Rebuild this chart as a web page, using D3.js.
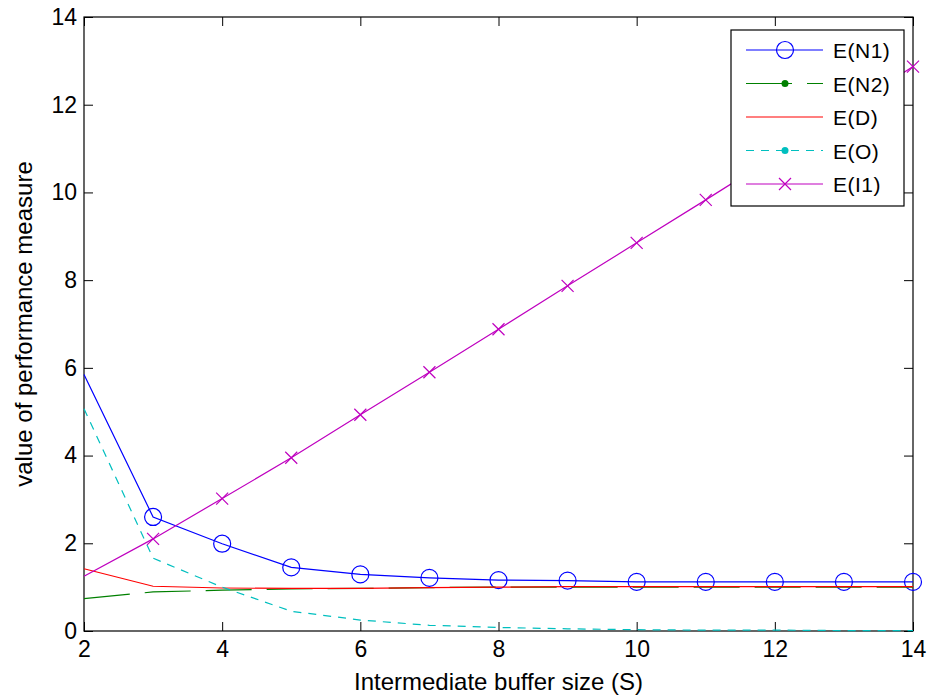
<!DOCTYPE html>
<html>
<head>
<meta charset="utf-8">
<script src="https://cdn.jsdelivr.net/npm/d3@7"></script>
<style>
  body { margin: 0; background: #fff; }
  text { font-family: "Liberation Sans", Arial, sans-serif; }
</style>
</head>
<body>
<div id="wrapper"></div>
<script>
// data
const bufferSizes = [2, 3, 4, 5, 6, 7, 8, 9, 10, 11, 12, 13, 14]
const eN1 = [5.85, 2.6, 1.99, 1.45, 1.29, 1.21, 1.16, 1.15, 1.12, 1.12, 1.12, 1.12, 1.12]
const eN2 = [0.74, 0.89, 0.93, 0.96, 0.97, 0.99, 1.0, 1.0, 1.0, 1.0, 1.0, 1.0, 1.0]
const eD = [1.42, 1.02, 0.98, 0.97, 0.97, 0.99, 1.0, 1.01, 1.01, 1.01, 1.01, 1.01, 1.01]
const eO = [5.07, 1.66, 1.0, 0.45, 0.25, 0.13, 0.08, 0.05, 0.03, 0.02, 0.02, 0.01, 0.01]
const eI1 = [1.25, 2.1, 3.02, 3.95, 4.93, 5.9, 6.88, 7.87, 8.85, 9.83, 10.82, 11.85, 12.87]
const xTicks = [2, 4, 6, 8, 10, 12, 14]
const yTicks = [0, 2, 4, 6, 8, 10, 12, 14]

const series = [
  { name: "E(N1)", values: eN1, color: "#0000ff", dash: null, marker: "circle" },
  { name: "E(N2)", values: eN2, color: "#008000", dash: "46,15", marker: "dot" },
  { name: "E(D)", values: eD, color: "#ff0000", dash: null, marker: null },
  { name: "E(O)", values: eO, color: "#00bfbf", dash: "8,7", marker: "dot" },
  { name: "E(I1)", values: eI1, color: "#bf00bf", dash: null, marker: "cross" },
]

const dimensions = {
  width: 930,
  height: 698,
  margin: { top: 17, right: 17, bottom: 67, left: 84 },
}
dimensions.boundedWidth = dimensions.width - dimensions.margin.left - dimensions.margin.right
dimensions.boundedHeight = dimensions.height - dimensions.margin.top - dimensions.margin.bottom

const svg = d3.select("#wrapper").append("svg")
  .attr("width", dimensions.width)
  .attr("height", dimensions.height)

const bounds = svg.append("g")
  .attr("transform", `translate(${dimensions.margin.left},${dimensions.margin.top})`)

const xScale = d3.scaleLinear().domain([2, 14]).range([0, dimensions.boundedWidth])
const yScale = d3.scaleLinear().domain([0, 14]).range([dimensions.boundedHeight, 0])

// axes (matlab style box with inward ticks)
const tickLen = 9
const axisStyle = (g) => {
  g.select(".domain").remove()
  g.selectAll(".tick line").attr("stroke", "#000")
  g.selectAll(".tick text").attr("fill", "#000").style("font-size", "23px")
}
bounds.append("g")
  .attr("transform", `translate(0,${dimensions.boundedHeight})`)
  .call(d3.axisBottom(xScale).tickValues(xTicks).tickSizeInner(-tickLen).tickSizeOuter(0).tickPadding(10))
  .call(axisStyle)
bounds.append("g")
  .call(d3.axisTop(xScale).tickValues(xTicks).tickSizeInner(-tickLen).tickSizeOuter(0).tickFormat(""))
  .call(axisStyle)
bounds.append("g")
  .call(d3.axisLeft(yScale).tickValues(yTicks).tickSizeInner(-tickLen).tickSizeOuter(0).tickPadding(7))
  .call(axisStyle)
bounds.append("g")
  .attr("transform", `translate(${dimensions.boundedWidth},0)`)
  .call(d3.axisRight(yScale).tickValues(yTicks).tickSizeInner(-tickLen).tickSizeOuter(0).tickFormat(""))
  .call(axisStyle)
bounds.append("rect")
  .attr("width", dimensions.boundedWidth)
  .attr("height", dimensions.boundedHeight)
  .attr("fill", "none")
  .attr("stroke", "#000")
  .attr("stroke-width", 1.2)

// lines
const line = d3.line()
  .x((d, i) => xScale(bufferSizes[i]))
  .y((d) => yScale(d))

const drawMarker = (g, type, color) => {
  if (type === "circle") {
    g.append("circle").attr("r", 8.5).attr("fill", "none").attr("stroke", color).attr("stroke-width", 1.2)
  } else if (type === "cross") {
    g.append("path").attr("d", "M-6,-6L6,6M-6,6L6,-6").attr("stroke", color).attr("stroke-width", 1.2)
  } else if (type === "dot") {
    g.append("circle").attr("r", 3.5).attr("fill", color)
  }
}

series.forEach((s) => {
  bounds.append("path")
    .datum(s.values)
    .attr("d", line)
    .attr("fill", "none")
    .attr("stroke", s.color)
    .attr("stroke-width", 1.2)
    .attr("stroke-dasharray", s.dash)
  if (s.marker === "circle" || s.marker === "cross") {
    bounds.selectAll(null)
      .data(s.values.slice(1))
      .join("g")
      .attr("transform", (d, i) => `translate(${xScale(bufferSizes[i + 1])},${yScale(d)})`)
      .each(function () { drawMarker(d3.select(this), s.marker, s.color) })
  }
})

// legend
const legend = svg.append("g").attr("transform", "translate(731,30)")
legend.append("rect")
  .attr("width", 173)
  .attr("height", 176)
  .attr("fill", "#fff")
  .attr("stroke", "#000")
  .attr("stroke-width", 1.2)
series.forEach((s, i) => {
  const row = legend.append("g").attr("transform", `translate(0,${20 + i * 33.5})`)
  row.append("line")
    .attr("x1", 15).attr("x2", 92)
    .attr("stroke", s.color)
    .attr("stroke-width", 1.2)
    .attr("stroke-dasharray", s.dash)
  drawMarker(row.append("g").attr("transform", "translate(54,0)"), s.marker, s.color)
  row.append("text")
    .attr("x", 102)
    .attr("y", 8)
    .style("font-size", "21px")
    .style("letter-spacing", "0.5px")
    .text(s.name)
})

// axis labels
svg.append("text")
  .attr("x", dimensions.margin.left + dimensions.boundedWidth / 2)
  .attr("y", 690)
  .attr("text-anchor", "middle")
  .style("font-size", "24px")
  .text("Intermediate buffer size (S)")
svg.append("text")
  .attr("transform", `translate(32,${dimensions.margin.top + dimensions.boundedHeight / 2}) rotate(-90)`)
  .attr("text-anchor", "middle")
  .style("font-size", "24px")
  .text("value of performance measure")
</script>
</body>
</html>
